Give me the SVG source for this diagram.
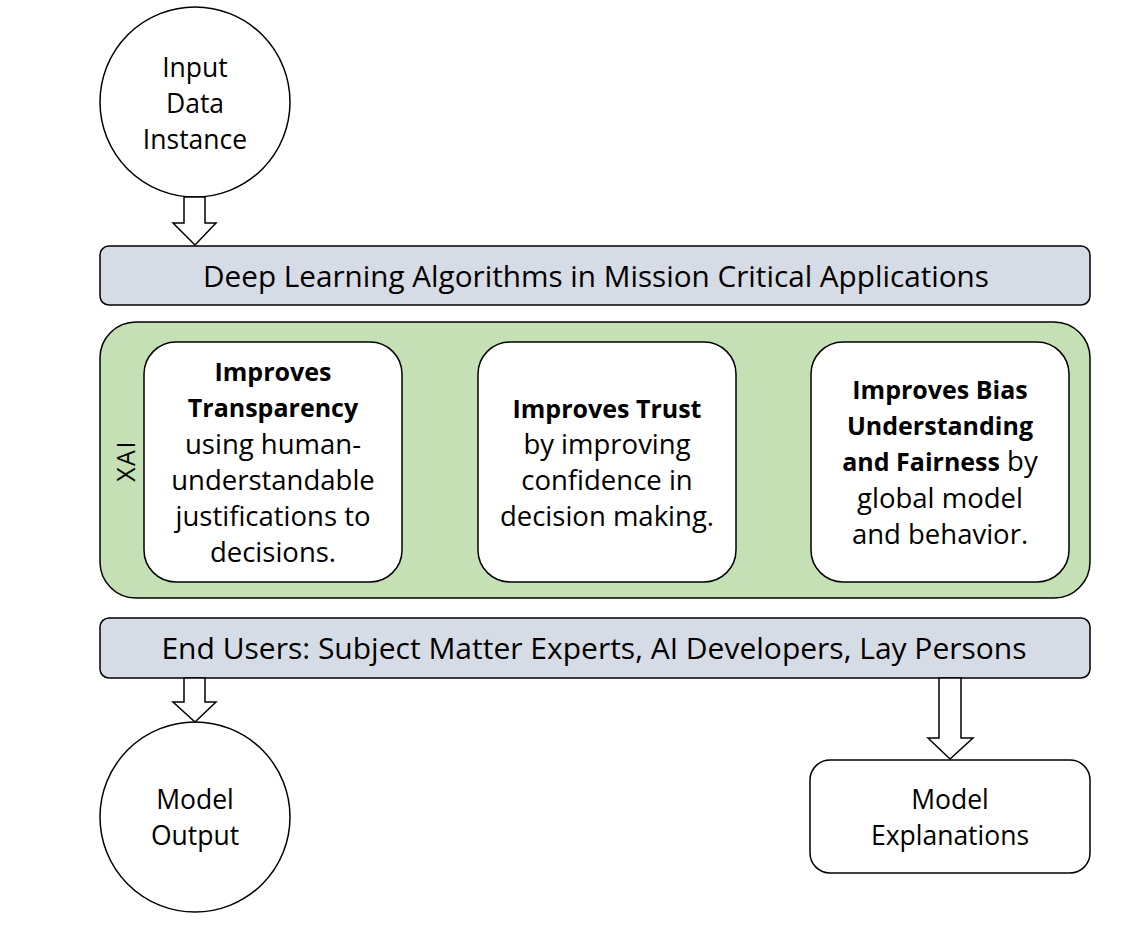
<svg xmlns="http://www.w3.org/2000/svg" width="1127" height="937" viewBox="0 0 1127 937">
<style>
.t{font-family:"Open Sans","Noto Sans","Liberation Sans",sans-serif;fill:#000;text-anchor:middle}
.b{font-weight:bold;font-size:25px}
.r{font-size:27.5px}
.s{stroke:#000;stroke-width:1.5}
.bar{fill:#d6dce5}
.w{fill:#fff}
</style>
<rect width="1127" height="937" fill="#fff"/>
<g id="input">
<circle class="s w" cx="195" cy="102" r="95"/>
<text class="t" font-size="26.5" x="195" y="77">Input</text>
<text class="t" font-size="26.5" x="195" y="113">Data</text>
<text class="t" font-size="26.5" x="195" y="149">Instance</text>
</g>
<g id="deep">
<rect class="s bar" x="100" y="246" width="990" height="59" rx="9"/>
<text class="t" font-size="29.7" x="596" y="287">Deep Learning Algorithms in Mission Critical Applications</text>
</g>
<g id="xai">
<rect class="s" fill="#c5e0b4" x="100" y="322" width="990" height="276" rx="36"/>
<text class="t" font-size="25" font-weight="500" letter-spacing="1.5" transform="translate(135 461) rotate(-90)">XAI</text>
</g>
<g id="transparency">
<rect class="s w" x="144" y="342" width="258" height="240" rx="32"/>
<text class="t"><tspan class="b" x="273" y="381">Improves</tspan><tspan class="b" x="273" y="417">Transparency</tspan><tspan class="r" x="273" y="454">using human-</tspan><tspan class="r" x="273" y="490">understandable</tspan><tspan class="r" x="273" y="526">justifications to</tspan><tspan class="r" x="273" y="562">decisions.</tspan></text>
</g>
<g id="trust">
<rect class="s w" x="478" y="342" width="258" height="240" rx="32"/>
<text class="t"><tspan class="b" x="607" y="418">Improves Trust</tspan><tspan class="r" x="607" y="454">by improving</tspan><tspan class="r" x="607" y="490">confidence in</tspan><tspan class="r" x="607" y="526">decision making.</tspan></text>
</g>
<g id="bias">
<rect class="s w" x="811" y="342" width="258" height="240" rx="32"/>
<text class="t"><tspan class="b" x="940" y="399">Improves Bias</tspan><tspan class="b" x="940" y="435">Understanding</tspan><tspan x="940" y="471"><tspan class="b">and Fairness</tspan><tspan class="r"> by</tspan></tspan><tspan class="r" x="940" y="508">global model</tspan><tspan class="r" x="940" y="544">and behavior.</tspan></text>
</g>
<g id="endusers">
<rect class="s bar" x="100" y="618" width="990" height="60" rx="9"/>
<text class="t" font-size="30" x="594" y="659">End Users: Subject Matter Experts, AI Developers, Lay Persons</text>
</g>
<g id="output">
<circle class="s w" cx="195" cy="817" r="95"/>
<text class="t" font-size="26.5" x="195" y="809">Model</text>
<text class="t" font-size="26.5" x="195" y="845">Output</text>
</g>
<g id="explanations">
<rect class="s w" x="810" y="760" width="280" height="113" rx="20"/>
<text class="t" font-size="26.5" x="950" y="809">Model</text>
<text class="t" font-size="26.5" x="950" y="845">Explanations</text>
</g>
<g id="connectors" class="s w" stroke-linejoin="miter">
<polygon points="184,197 205,197 205,223 216,223 195,245 173,223 184,223"/>
<polygon points="184,678 205,678 205,702 216,702 195,722 173,702 184,702"/>
<polygon points="939,678 961,678 961,738 973,738 950,759 928,738 939,738"/>
</g>
</svg>
